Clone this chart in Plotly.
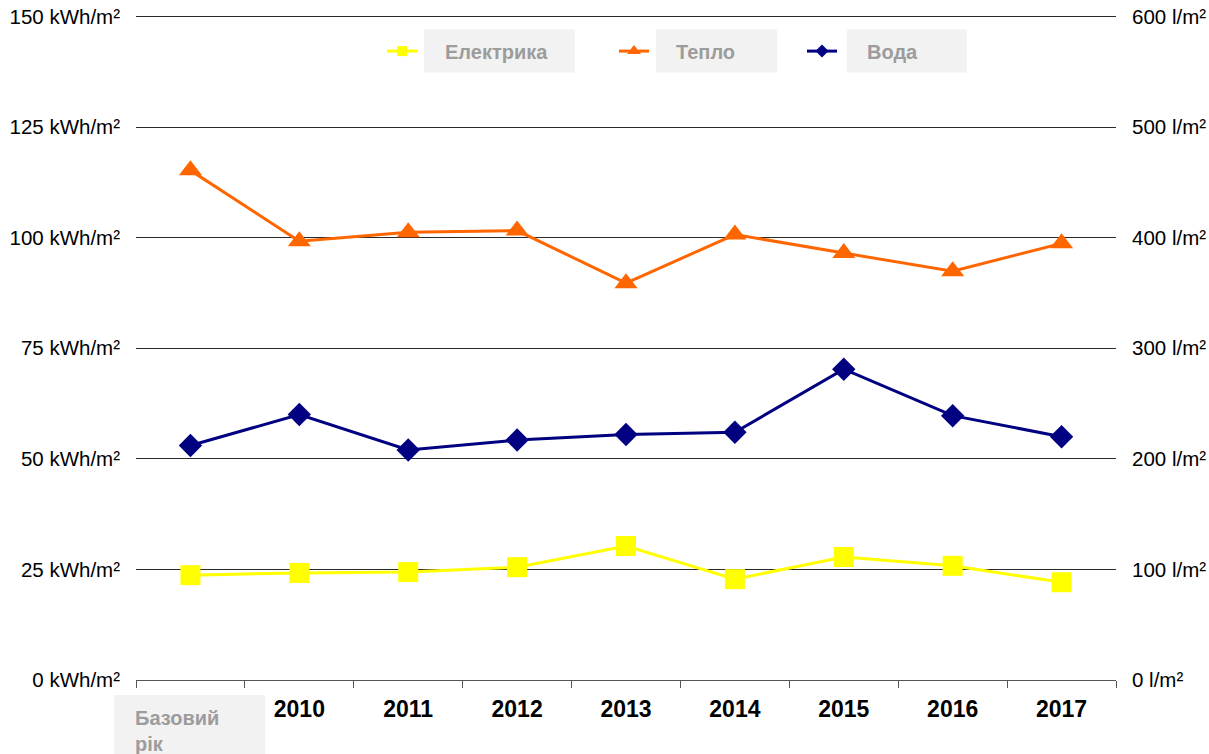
import plotly.graph_objects as go

# categories (first one is the base year, labelled separately in a grey box)
years = ["Базовий рік", "2010", "2011", "2012", "2013", "2014", "2015", "2016", "2017"]

# kWh/m2 (left axis)
elektryka = [23.7, 24.2, 24.4, 25.5, 30.3, 22.8, 27.8, 25.8, 22.1]
teplo = [115.2, 99.2, 101.2, 101.6, 89.7, 100.7, 96.5, 92.4, 98.7]
# l/m2 (right axis)
voda = [212, 240, 208, 217, 222, 224, 281, 239, 220]

left_ticks = [0, 25, 50, 75, 100, 125, 150]
right_ticks = [0, 100, 200, 300, 400, 500, 600]

YELLOW = "#ffff00"
ORANGE = "#ff6600"
NAVY = "#000080"
GREY_TXT = "#9c9c9c"
GREY_BOX = "#f2f2f2"
FONT = "Liberation Sans, Arial, sans-serif"

W, H = 1209, 754
# plot area in pixels; the axis goes a little past 150 so the top grid line is drawn
YMAX = 151
L, R, B = 136, 1116, 680
T = B - (B - 16) * YMAX / 150


def px(x):
    return (x - L) / (R - L)


def py(y):
    return (B - y) / (B - T)


series = [
    dict(name="Електрика", y=elektryka, color=YELLOW, symbol="square", size=20, lsize=10,
         axis="y", legend="legend"),
    dict(name="Тепло", y=teplo, color=ORANGE, symbol="triangle-up", size=20, lsize=12,
         axis="y", legend="legend2"),
    dict(name="Вода", y=voda, color=NAVY, symbol="diamond", size=18, lsize=10,
         axis="y2", legend="legend3"),
]

fig = go.Figure()
for s in series:
    fig.add_trace(go.Scatter(
        x=years, y=s["y"], name=s["name"], yaxis=s["axis"],
        mode="lines+markers",
        line=dict(color=s["color"], width=3),
        marker=dict(symbol=s["symbol"], size=s["size"], color=s["color"]),
        showlegend=False,
    ))
    # small legend glyph only; the label sits in a grey box drawn below
    fig.add_trace(go.Scatter(
        x=[None], y=[None], name="", yaxis=s["axis"],
        mode="lines+markers",
        line=dict(color=s["color"], width=3),
        marker=dict(symbol=s["symbol"], size=s["lsize"], color=s["color"]),
        legend=s["legend"], showlegend=True, hoverinfo="skip",
    ))

# legend boxes: (symbol start px, box left, box right, text left)
legend_pos = [(388, 424, 575, 443), (620, 656, 777, 674), (808, 847, 967, 865)]
shapes = []
annotations = []
legend_layout = {}
for s, (sx, bl, br, tl) in zip(series, legend_pos):
    legend_layout[s["legend"]] = dict(
        x=px(sx - 6), y=py(51), xanchor="left", yanchor="middle",
        bgcolor="rgba(0,0,0,0)", borderwidth=0, itemwidth=30,
        font=dict(family=FONT, size=18),
    )
    shapes.append(dict(type="rect", xref="paper", yref="paper",
                       x0=px(bl), x1=px(br), y0=py(72), y1=py(29),
                       fillcolor=GREY_BOX, line=dict(width=0), layer="below"))
    annotations.append(dict(xref="paper", yref="paper", x=px(tl), y=py(52),
                            xanchor="left", yanchor="middle", showarrow=False,
                            text="<b>%s</b>" % s["name"],
                            font=dict(family=FONT, size=20, color=GREY_TXT)))

# base year label box
shapes.append(dict(type="rect", xref="paper", yref="paper",
                   x0=px(114), x1=px(265), y0=py(760), y1=py(695),
                   fillcolor=GREY_BOX, line=dict(width=0), layer="below"))
annotations.append(dict(xref="paper", yref="paper", x=px(133), y=py(705),
                        xanchor="left", yanchor="top", showarrow=False, align="left",
                        text="<b>Базовий<br>рік</b>",
                        font=dict(family=FONT, size=20, color=GREY_TXT)))

fig.update_layout(
    width=W, height=H,
    margin=dict(l=L, r=W - R, t=T, b=H - B, autoexpand=False),
    paper_bgcolor="white", plot_bgcolor="white",
    font=dict(family=FONT, size=20.5, color="#000000"),
    shapes=shapes, annotations=annotations,
    xaxis=dict(
        type="category", range=[-0.5, len(years) - 0.5],
        tickvals=years, ticktext=[""] + ["<b>%s</b>" % y for y in years[1:]],
        tickfont=dict(size=23, color="#000000"),
        showgrid=False, showline=True, linecolor="#555555", linewidth=1,
        ticks="outside", tickson="boundaries", ticklen=7, tickcolor="#555555",
        ticklabelstandoff=8, zeroline=False, automargin=False,
    ),
    yaxis=dict(
        range=[0, YMAX], tickvals=left_ticks,
        ticktext=["%d kWh/m²" % v for v in left_ticks],
        showgrid=True, gridcolor="#2a2a2a", gridwidth=1,
        zeroline=False, showline=False, ticklabelstandoff=15, automargin=False,
        ticklabeloverflow="allow",
    ),
    yaxis2=dict(
        range=[0, YMAX * 4], tickvals=right_ticks,
        ticktext=["%d l/m²" % v for v in right_ticks],
        overlaying="y", side="right", showgrid=False, zeroline=False,
        showline=False, ticklabelstandoff=15, automargin=False,
        ticklabeloverflow="allow",
    ),
    **legend_layout,
)

# drop the page's default body margin so the figure sits at the window's corner
fig.write_html(
    "out.html",
    config={"displayModeBar": False},
    post_script="document.body.style.margin='0';document.body.style.overflow='hidden';",
)
